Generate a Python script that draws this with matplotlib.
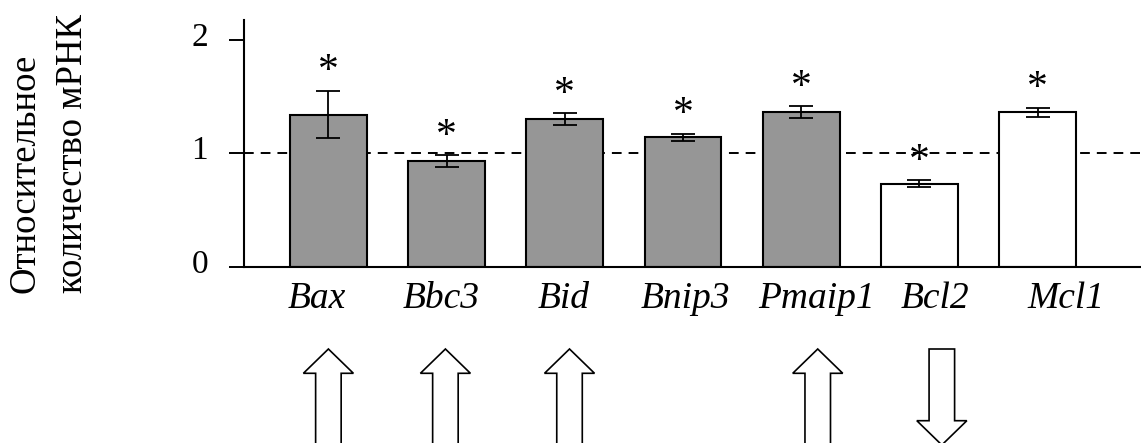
import matplotlib
matplotlib.use('Agg')
import matplotlib.pyplot as plt
from matplotlib.patches import Polygon
from matplotlib.transforms import ScaledTranslation
import numpy as np

plt.rcParams['font.family'] = ['Liberation Serif', 'DejaVu Serif']

# relative mRNA level of apoptosis genes (mean +- error)
genes = ['Bax', 'Bbc3', 'Bid', 'Bnip3', 'Pmaip1', 'Bcl2', 'Mcl1']
means = [1.34, 0.93, 1.30, 1.14, 1.36, 0.73, 1.36]
errors = [0.21, 0.055, 0.05, 0.033, 0.053, 0.032, 0.042]
significant = [True, True, True, True, True, True, True]
# pro-apoptotic genes are grey, anti-apoptotic are white
gene_group = ['pro', 'pro', 'pro', 'pro', 'pro', 'anti', 'anti']
# direction of the change shown under the chart
arrows = ['up', 'up', 'up', None, 'up', 'down', None]

group_color = {'pro': '#969696', 'anti': 'white'}
label_shift = [-0.10, -0.05, -0.01, 0.02, 0.13, 0.13, 0.24]
arrow_shift = [0.0, -0.01, 0.04, 0.0, 0.14, 0.19, 0.0]

W, H = 1141, 443
fig = plt.figure(figsize=(W / 100, H / 100), dpi=100)

ax_left = 244 / W
ax_bottom = (H - 266.5) / H
ax_height = 246.5 / H
ax = fig.add_axes([ax_left, ax_bottom, 1 - ax_left, ax_height])

x = np.arange(len(genes))
xlim = (-0.714, 6.875)

ax.axhline(1.0, color='black', lw=1.4, dashes=(5.0, 3.6), zorder=1)
ax.bar(x, means, width=0.65, color=[group_color[g] for g in gene_group],
       edgecolor='black', linewidth=1.5, zorder=2)
ax.errorbar(x, means, yerr=errors, fmt='none', ecolor='black',
            elinewidth=1.3, capsize=8.5, capthick=1.3, zorder=3)

for xi, m, e, s in zip(x, means, errors, significant):
    if s:
        ax.annotate('*', (xi, m + e), xytext=(0, 6), textcoords='offset points',
                    ha='center', va='baseline', fontsize=30)

ax.set_xlim(*xlim)
ax.set_ylim(0, 2.175)
ax.set_yticks([0, 1, 2])
ax.set_yticklabels(['0', '1', '2'], fontsize=24)
ax.tick_params(axis='y', direction='out', length=10.8, width=1.4, pad=15)
# digits sit a little above their tick marks
lift = ScaledTranslation(0, 4 / 72, fig.dpi_scale_trans)
for lbl in ax.get_yticklabels():
    lbl.set_transform(lbl.get_transform() + lift)
ax.set_xticks(x + np.array(label_shift))
ax.set_xticklabels(genes, fontsize=27, style='italic')
ax.tick_params(axis='x', length=0, pad=10.5)

for side in ['top', 'right']:
    ax.spines[side].set_visible(False)
for side in ['left', 'bottom']:
    ax.spines[side].set_linewidth(1.5)

# y axis title, two lines starting from the same point
fig.text(35 / W, (H - 293) / H, 'Относительное', rotation=90,
         rotation_mode='anchor', ha='left', va='baseline', fontsize=26.5)
fig.text(82 / W, (H - 293) / H, 'количество мРНК', rotation=90,
         rotation_mode='anchor', ha='left', va='baseline', fontsize=26.5)

# hollow block arrows below the gene names (y measured in pixels)
ax_arr = fig.add_axes([ax_left, 0, 1 - ax_left, 94 / H])
ax_arr.set_xlim(*xlim)
ax_arr.set_ylim(0, 94)
ax_arr.axis('off')
head_hw, shaft_hw, head_h = 0.2115, 0.108, 24.3
for xi, d, sh in zip(x, arrows, arrow_shift):
    if d is None:
        continue
    c = xi + sh
    if d == 'up':
        pts = [(c, 94), (c + head_hw, 94 - head_h), (c + shaft_hw, 94 - head_h),
               (c + shaft_hw, -6), (c - shaft_hw, -6), (c - shaft_hw, 94 - head_h),
               (c - head_hw, 94 - head_h)]
    else:
        base = 22.3
        pts = [(c - shaft_hw, 94), (c + shaft_hw, 94), (c + shaft_hw, base),
               (c + head_hw, base), (c, base - head_h), (c - head_hw, base),
               (c - shaft_hw, base)]
    ax_arr.add_patch(Polygon(pts, closed=True, facecolor='white',
                             edgecolor='black', linewidth=1.2, clip_on=False))

fig.savefig('out.png', dpi=100)
